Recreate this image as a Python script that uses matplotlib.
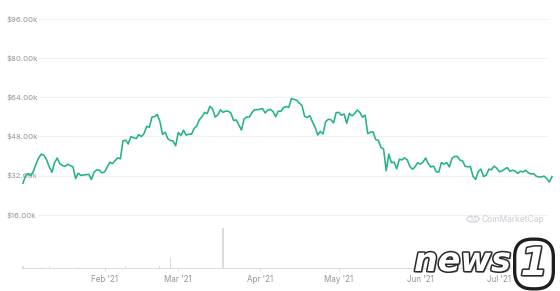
import matplotlib
matplotlib.use('Agg')
import matplotlib.pyplot as plt
import matplotlib.dates as mdates
import matplotlib.patheffects as pe
from matplotlib.transforms import blended_transform_factory
from matplotlib.patches import Circle
import pandas as pd

# Daily BTC price (USD), 2021-01-01 .. 2021-07-21
prices = [
    # Jan
    28900, 32127, 32782, 31971, 33992, 36824, 39371, 40797, 40254, 38356,
    35566, 33400, 37316, 39187, 36825, 36178, 35792, 36630, 36069, 35547,
    30825, 33005, 32067, 32289, 32366, 32569, 30432, 33466, 34316, 34269,
    33114,
    # Feb
    33537, 35510, 37472, 36926, 38144, 39266, 38903, 46196, 46481, 44918,
    47909, 47504, 47105, 48717, 47945, 49199, 52149, 51679, 55888, 56099,
    57000, 54207, 48824, 49705, 47093, 46339, 46188, 44200,
    # Mar
    49631, 48378, 50538, 48561, 48927, 48912, 51206, 52246, 54824, 56008,
    57805, 57332, 60300, 59302, 55907, 56804, 58870, 57858, 58346, 58313,
    57523, 54529, 54738, 52774, 50600, 55137, 55974, 55947, 57750, 58917,
    58918,
    # Apr
    59095, 59384, 57603, 58758, 59057, 58192, 56048, 58323, 58245, 59793,
    60204, 59893, 63503, 63109, 62800, 61572, 60683, 56216, 55724, 56473,
    53906, 51762, 48600, 50050, 49004, 54021, 55033, 54824, 53555, 57750,
    # May
    57828, 56631, 57200, 53333, 57424, 56396, 57356, 58803, 57800, 55859,
    56704, 49150, 49716, 49880, 46760, 46456, 43537, 42909, 34000, 40782,
    37304, 37537, 34770, 38705, 38402, 39294, 38436, 35698, 34616, 35678,
    37333,
    # Jun
    36685, 37575, 39188, 36894, 35551, 35862, 33560, 33472, 37345, 36702,
    37334, 35553, 39097, 39800, 39900, 38347, 38053, 35787, 35615, 35698,
    31676, 30500, 33723, 34663, 31637, 32186, 34649, 34434, 35867, 35040,
    # Jul
    33572, 33897, 34668, 35287, 33746, 34235, 33855, 32877, 33798, 33520,
    34240, 33155, 32702, 32822, 31780, 31421, 31533, 31796, 30817, 29400,
    31600,
]
dates = pd.date_range('2021-01-01', periods=len(prices), freq='D')

# the few volume bars that are visible at the bottom (relative units)
volume_dates = pd.to_datetime(['2021-01-01', '2021-01-08', '2021-01-11', '2021-01-22',
                               '2021-02-09', '2021-02-22', '2021-02-26', '2021-03-18'])
volume_values = [6, 5, 6, 5, 7, 6, 42, 150]

price_ticks = [16000, 32000, 48000, 64000, 80000, 96000]
month_ticks = pd.to_datetime(['2021-02-01', '2021-03-01', '2021-04-01',
                              '2021-05-01', '2021-06-01', '2021-07-01'])
month_labels = ["Feb '21", "Mar '21", "Apr '21", "May '21", "Jun '21", "Jul '21"]

W, H = 560, 291
fig = plt.figure(figsize=(W / 100, H / 100), dpi=100)
fig.patch.set_facecolor('white')

# axes spans pixel x 22..553, y 0..268 (baseline)
ax = fig.add_axes([22 / W, (H - 268) / H, 531 / W, 268 / H])
ax.set_zorder(2)
ax.patch.set_alpha(0)

d0 = mdates.date2num(dates[0])
d1 = mdates.date2num(dates[-1])
pad = 0.38
ax.set_xlim(d0 - pad, d1 + pad)
ax.set_ylim(-5700, 103700)

for t in price_ticks:
    ax.axhline(t, xmin=0.03, xmax=0.99, color='#eff1f4', lw=0.8, zorder=0)

ax.plot(dates, prices, color='#22b386', lw=1.15, zorder=3, solid_joinstyle='round')

lab_tr = blended_transform_factory(fig.transFigure, ax.transData)
for t in price_ticks:
    ax.text(7 / W, t, f'${t / 1000:.2f}k', transform=lab_tr, ha='left', va='center',
            fontsize=5.6, color='#8f959e', family='Inter', zorder=1)

for side in ['top', 'right', 'left']:
    ax.spines[side].set_visible(False)
ax.spines['bottom'].set_color('#dcdfe4')
ax.spines['bottom'].set_linewidth(0.8)
ax.set_yticks([])
ax.set_xticks(month_ticks)
ax.set_xticklabels(month_labels)
ax.tick_params(axis='x', length=2.5, width=0.7, color='#dcdfe4', pad=2.2,
               labelsize=5.8, labelcolor='#8f959e')
for lbl in ax.get_xticklabels():
    lbl.set_family('Inter')

# volume bars on their own scale
ax2 = fig.add_axes(ax.get_position())
ax2.set_zorder(1)
ax2.bar(volume_dates, volume_values, width=0.45, color='#d8dbe0')
ax2.set_xlim(ax.get_xlim())
ax2.set_ylim(0, 1000)
ax2.axis('off')

# CoinMarketCap watermark
logo = Circle((473 / W, 1 - 219 / H), 6 / W, transform=fig.transFigure,
              fill=False, ec='#d3d7dd', lw=1.0)
fig.patches.append(logo)
fig.text(473 / W, 1 - 219.5 / H, 'M', ha='center', va='center', fontsize=5.5,
         color='#d3d7dd', family='DejaVu Sans')
fig.text(482 / W, 1 - 219 / H, 'CoinMarketCap', ha='left', va='center',
         fontsize=6.2, color='#c9cdd4', family='Inter')

# news1 watermark
stroke = [pe.withSimplePatchShadow(offset=(1.2, -1.2), shadow_rgbFace='#9a9a9a', alpha=0.8),
          pe.withStroke(linewidth=2.2, foreground='#2a2a2a')]
fig.text(414 / W, 1 - 271 / H, 'news', ha='left', va='baseline', fontsize=24,
         style='italic', weight='bold', color='white', family='DejaVu Sans',
         path_effects=stroke)
fig.text(534 / W, 1 - 264 / H, '1', ha='center', va='center', fontsize=28,
         style='italic', weight='bold', color='white', family='DejaVu Sans',
         path_effects=stroke,
         bbox=dict(boxstyle='round,pad=0.15,rounding_size=0.45', fc='white',
                   ec='#1e1e1e', lw=2.4))

fig.savefig('out.png', dpi=100, facecolor='white')
